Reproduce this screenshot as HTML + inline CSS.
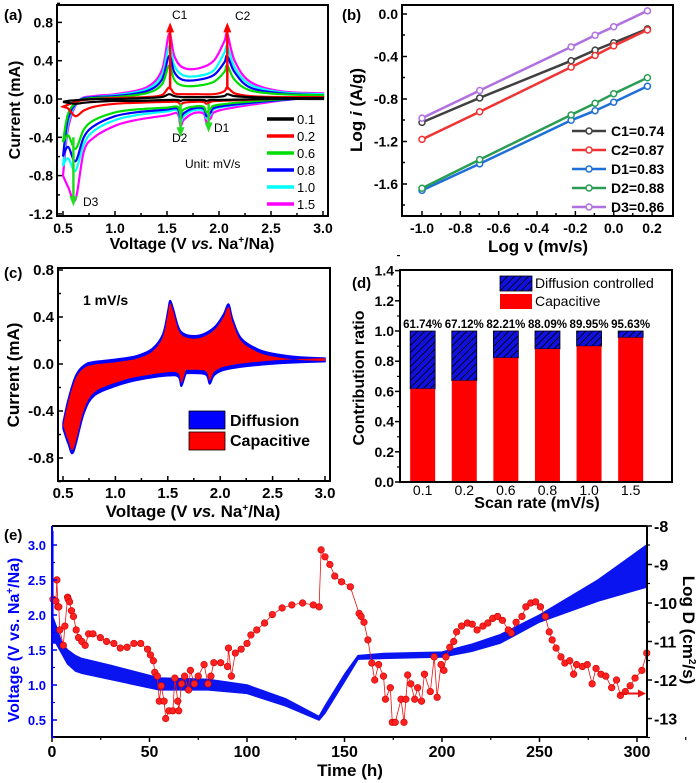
<!DOCTYPE html>
<html><head><meta charset="utf-8"><style>
body{margin:0;background:#fff;}
svg{display:block;font-family:"Liberation Sans",Arial,sans-serif;font-weight:bold;}
</style></head><body>
<svg id="fig" width="700" height="783" viewBox="0 0 700 783" xmlns="http://www.w3.org/2000/svg">
<defs>
<pattern id="hatch" patternUnits="userSpaceOnUse" width="7" height="7">
<rect width="7" height="7" fill="#1010e0"/>
<path d="M-1,8 L8,-1 M-4,4 L4,-4 M3,11 L11,3" stroke="#000" stroke-width="0.8"/>
</pattern>
</defs>
</svg>
<script>
// ---------- Panel (a) data ----------
const aUpperV=[0.5,0.55,0.65,0.8,1.0,1.3,1.45,1.52,1.57,1.65,1.8,1.95,2.05,2.08,2.15,2.3,2.6,3.0];
const aLowerV=[3.0,2.5,2.0,1.92,1.88,1.85,1.75,1.66,1.63,1.6,1.5,1.2,1.0,0.8,0.7,0.62,0.55,0.5];
const aRates=["0.1","0.2","0.6","0.8","1.0","1.5"];
const aUp01=[-0.03,-0.02,-0.01,0.0,0.0,0.01,0.02,0.05,0.03,0.02,0.02,0.02,0.03,0.05,0.03,0.02,0.01,0.01];
const aUp02=[-0.08,-0.06,-0.02,0.0,0.01,0.02,0.04,0.12,0.06,0.05,0.05,0.05,0.08,0.12,0.06,0.03,0.02,0.02];
const aUp06=[-0.45,-0.15,-0.02,0.01,0.02,0.06,0.15,0.35,0.2,0.14,0.14,0.18,0.28,0.35,0.2,0.09,0.05,0.04];
const aUp08=[-0.6,-0.2,-0.02,0.02,0.03,0.08,0.2,0.45,0.28,0.2,0.2,0.25,0.38,0.45,0.28,0.12,0.06,0.04];
const aUp10=[-0.7,-0.25,-0.02,0.02,0.04,0.1,0.25,0.55,0.35,0.25,0.24,0.3,0.48,0.55,0.33,0.15,0.07,0.05];
const aUp15=[-0.8,-0.3,-0.02,0.03,0.05,0.12,0.3,0.68,0.45,0.33,0.32,0.4,0.6,0.68,0.4,0.18,0.08,0.06];
const aLo01=[0.0,0.0,-0.01,-0.01,-0.02,-0.01,-0.01,-0.01,-0.02,-0.01,-0.01,-0.02,-0.02,-0.03,-0.04,-0.05,-0.04,-0.03];
const aLo02=[0.01,0.0,-0.02,-0.03,-0.05,-0.03,-0.03,-0.04,-0.06,-0.03,-0.03,-0.04,-0.05,-0.08,-0.12,-0.18,-0.1,-0.08];
const aLo06=[0.02,-0.01,-0.06,-0.1,-0.14,-0.08,-0.08,-0.11,-0.15,-0.08,-0.09,-0.11,-0.14,-0.22,-0.32,-0.52,-0.38,-0.45];
const aLo08=[0.02,-0.02,-0.08,-0.14,-0.18,-0.1,-0.1,-0.15,-0.2,-0.1,-0.11,-0.14,-0.18,-0.28,-0.4,-0.65,-0.5,-0.6];
const aLo10=[0.02,-0.02,-0.09,-0.16,-0.2,-0.12,-0.12,-0.18,-0.24,-0.12,-0.13,-0.17,-0.22,-0.33,-0.47,-0.75,-0.62,-0.7];
const aLo15=[0.03,-0.03,-0.12,-0.2,-0.24,-0.15,-0.15,-0.22,-0.28,-0.15,-0.17,-0.22,-0.28,-0.4,-0.55,-1.05,-0.92,-0.8];
const aXTicks=[0.5,1.0,1.5,2.0,2.5,3.0];
const aYTicks=[-1.2,-0.8,-0.4,0.0,0.4,0.8];
// ---------- Panel (b) data ----------
const bX=[-1.0,-0.699,-0.222,-0.097,0.0,0.176];
const bC1=[-1.02,-0.79,-0.44,-0.34,-0.27,-0.14];
const bC2=[-1.18,-0.92,-0.50,-0.39,-0.30,-0.15];
const bD1=[-1.66,-1.41,-1.00,-0.91,-0.83,-0.68];
const bD2=[-1.64,-1.37,-0.95,-0.84,-0.75,-0.60];
const bD3=[-0.98,-0.72,-0.31,-0.20,-0.12,0.03];
const bLabels=["C1=0.74","C2=0.87","D1=0.83","D2=0.88","D3=0.86"];
const bXTicks=[-1.0,-0.8,-0.6,-0.4,-0.2,0.0,0.2];
const bYTicks=[-1.6,-1.2,-0.8,-0.4,0.0];
// ---------- Panel (c) data ----------
const cUpV=[0.5,0.55,0.62,0.7,0.8,1.0,1.2,1.35,1.45,1.5,1.52,1.55,1.6,1.65,1.75,1.85,1.95,2.03,2.08,2.12,2.2,2.35,2.5,2.75,3.0];
const cUpI=[-0.5,-0.3,-0.1,-0.01,0.02,0.04,0.07,0.13,0.25,0.45,0.54,0.48,0.32,0.26,0.24,0.26,0.32,0.42,0.51,0.38,0.22,0.13,0.09,0.06,0.05];
const cLoV=[3.0,2.5,2.1,1.95,1.9,1.86,1.7,1.67,1.63,1.6,1.5,1.2,1.0,0.8,0.7,0.6,0.55,0.5];
const cLoI=[0.02,0.0,-0.04,-0.09,-0.17,-0.09,-0.08,-0.09,-0.19,-0.11,-0.1,-0.14,-0.19,-0.27,-0.42,-0.75,-0.68,-0.55];
const cXTicks=[0.5,1.0,1.5,2.0,2.5,3.0];
const cYTicks=[-0.8,-0.4,0.0,0.4,0.8];
// ---------- Panel (d) data ----------
const dCats=["0.1","0.2","0.6","0.8","1.0","1.5"];
const dCap=[0.6174,0.6712,0.8221,0.8809,0.8995,0.9563];
const dPct=["61.74%","67.12%","82.21%","88.09%","89.95%","95.63%"];
const dYTicks=[0.0,0.2,0.4,0.6,0.8,1.0,1.2,1.4];
// ---------- Panel (e) data ----------
const eVt=[0,2,5,8,12,15,30,55,80,100,120,137,140,150,157,170,200,215,230,250,280,305];
const eVhi=[2.0,1.85,1.6,1.5,1.42,1.38,1.28,1.1,1.08,1.0,0.8,0.55,0.7,1.15,1.42,1.45,1.47,1.58,1.72,2.0,2.5,3.0];
const eVlo=[1.6,1.6,1.45,1.3,1.2,1.17,1.08,0.93,0.93,0.88,0.7,0.5,0.6,1.05,1.37,1.38,1.4,1.48,1.6,1.9,2.2,2.4];
const eDt=[0.5,2,2.5,3,3.5,4,5.8,6.6,8,8.3,9,10,11,12.4,13.6,15.3,17,18.8,21,24.8,28,31.7,35,38.5,42,45.5,49,50.5,52,52.7,54,55,56,57.5,58.3,60,62,63,64.5,65,66.4,68,70,71,73,75,78,80,81.5,83,86.5,90,90.5,92,94,97,100,102,105,109,113,118,123,128.5,134,137,138,140,142.5,145,148.5,153,157.5,158.5,160,162,164,165.5,167.5,170,171,173.5,174.5,176,179,180.5,181.5,182.4,184,186,187.5,189.5,191,194,196,197.5,199.5,201,202,204,206,207.5,210,213,215.5,218,221,223.5,226,228.5,231,234,235.5,238,241,243,245.5,248,250.5,253,255,256.5,258.5,261,263,265.5,267.5,269,272,274.5,277,279,281.5,284,287,289.5,291.5,294,296.5,299,302.5,305];
const eDv=[-9.9,-9.95,-9.4,-10.1,-10.1,-10.7,-11.1,-10.6,-9.85,-9.9,-9.97,-10.2,-10.35,-10.7,-10.9,-11.0,-11.1,-10.8,-10.8,-10.9,-11.0,-11.05,-11.17,-11.15,-11.05,-11.05,-11.2,-11.35,-11.5,-11.8,-11.9,-12.55,-12.15,-12.55,-13.0,-12.8,-12.8,-11.95,-12.55,-12.8,-12.1,-11.9,-12.26,-11.75,-12.1,-11.9,-11.6,-12.1,-11.9,-11.55,-11.55,-11.65,-11.17,-11.9,-11.3,-11.2,-11.05,-10.83,-10.7,-10.52,-10.3,-10.13,-10.05,-10.0,-10.05,-10.1,-8.62,-8.8,-9.0,-9.3,-9.45,-9.58,-10.27,-10.35,-10.5,-10.96,-11.56,-12.0,-11.6,-11.9,-12.5,-12.2,-13.1,-13.1,-12.5,-13.1,-12.5,-11.87,-12.1,-12.5,-12.2,-12.55,-11.85,-12.3,-11.4,-12.45,-11.6,-11.75,-11.4,-11.15,-11.0,-10.75,-10.6,-10.52,-10.55,-10.7,-10.6,-10.52,-10.4,-10.35,-10.45,-10.7,-10.78,-10.5,-10.35,-10.1,-10.0,-9.97,-10.1,-10.35,-10.75,-10.96,-11.17,-11.4,-11.56,-11.5,-11.85,-11.6,-11.65,-11.6,-12.1,-11.7,-11.85,-11.9,-12.2,-12.0,-12.4,-12.3,-12.15,-11.95,-11.75,-11.3];
const eXTicks=[0,50,100,150,200,250,300];
const eVTicks=[0.5,1.0,1.5,2.0,2.5,3.0];
const eDTicks=[-13,-12,-11,-10,-9,-8];

const NS="http://www.w3.org/2000/svg";
const svg=document.getElementById('fig');
function mk(tag,attrs,parent){const e=document.createElementNS(NS,tag);for(const k in attrs)e.setAttribute(k,attrs[k]);(parent||svg).appendChild(e);return e;}
function txt(s,x,y,size,anchor,fill,parent){const t=mk('text',{x:x,y:y,'font-size':size,'text-anchor':anchor||'middle',fill:fill||'#000'},parent);t.textContent=s;return t;}
function fmt(v){return (Math.abs(v)<1e-9?0:v).toFixed(1);}
function grp(name){const g=mk('g',{});return g;}
function frame(g,x0,y0,x1,y1,color){const r=mk('rect',{x:x0,y:y0,width:x1-x0,height:y1-y0,fill:'none',stroke:color||'#000','stroke-width':2},g);}
function pathD(xs,ys,sx,sy){return xs.map((v,i)=>(i?'L':'M')+sx(v).toFixed(1)+','+sy(ys[i]).toFixed(1)).join(' ');}
function smoothD(xs,ys,sx,sy,cont){
 const P=xs.map((v,i)=>[sx(v),sy(ys[i])]);
 let d=(cont?'L':'M')+P[0][0].toFixed(1)+','+P[0][1].toFixed(1);
 for(let i=0;i<P.length-1;i++){
  const p0=P[Math.max(0,i-1)],p1=P[i],p2=P[i+1],p3=P[Math.min(P.length-1,i+2)];
  const c1=[p1[0]+(p2[0]-p0[0])/6,p1[1]+(p2[1]-p0[1])/6];
  const c2=[p2[0]-(p3[0]-p1[0])/6,p2[1]-(p3[1]-p1[1])/6];
  d+=` C${c1[0].toFixed(1)},${c1[1].toFixed(1)} ${c2[0].toFixed(1)},${c2[1].toFixed(1)} ${p2[0].toFixed(1)},${p2[1].toFixed(1)}`;
 }
 return d;
}

// ===== Panel (a) =====
(function(){
const g=grp('panel-a-cv-curves');
const sx=v=>63+(v-0.5)*104, sy=i=>99-i*95.75;
const X0=57,X1=328,Y0=5,Y1=216;
const ups=[aUp01,aUp02,aUp06,aUp08,aUp10,aUp15], los=[aLo01,aLo02,aLo06,aLo08,aLo10,aLo15];
const cols=['#000','#ff0000','#00dd00','#0000ff','#00ffff','#ff00ff'];
for(let k=5;k>=0;k--){
 const d=smoothD(aUpperV,ups[k],sx,sy,false)+' '+smoothD(aLowerV,los[k],sx,sy,true)+' Z';
 const p=mk('path',{d:d,fill:'none',stroke:cols[k],'stroke-width':2.2},g);
 
 
}
const arrows=[[1.53,0.1,0.8,'#ff0000','C1'],[2.08,0.1,0.8,'#ff0000','C2'],[1.63,-0.05,-0.4,'#22dd22','D2'],[1.9,-0.05,-0.35,'#22dd22','D1'],[0.6,-0.4,-1.12,'#22dd22','D3']];
arrows.forEach(a=>{
 const x=sx(a[0]),ya=sy(a[1]),yb=sy(a[2]);const dir=yb<ya?1:-1;
 const l=mk('line',{x1:x,y1:ya,x2:x,y2:yb+dir*8,stroke:a[3],'stroke-width':2.5},g);
 
 
 const h=mk('polygon',{points:`${x-4},${yb+dir*10} ${x+4},${yb+dir*10} ${x},${yb}`,fill:a[3]},g);
 
 
});
const pl=[['C1',172,19],['C2',235,20],['D2',172,142],['D1',214,132],['D3',83,206]];
pl.forEach(p=>{const t=txt(p[0],p[1],p[2],12,'start','#000',g);t.setAttribute('font-weight','normal');
 
 });
frame(g,X0,Y0,X1,Y1);
aXTicks.forEach((v,i)=>{const x=sx(v);mk('line',{x1:x,y1:Y1,x2:x,y2:Y1-5,stroke:'#000','stroke-width':1.5},g);
 if(i<aXTicks.length-1)mk('line',{x1:x+26,y1:Y1,x2:x+26,y2:Y1-3,stroke:'#000','stroke-width':1.5},g);
 const t=txt(fmt(v),x,233,14,'middle','#000',g);});
aYTicks.forEach(v=>{const y=sy(v);mk('line',{x1:X0,y1:y,x2:X0+5,y2:y,stroke:'#000','stroke-width':1.5},g);
 mk('line',{x1:X0,y1:y-19,x2:X0+3,y2:y-19,stroke:'#000','stroke-width':1.5},g);
 const t=txt(fmt(v),X0-4,y+5,14,'end','#000',g);});
const xt=txt('',192,249,16,'middle','#000',g);xt.innerHTML='Voltage (V <tspan font-style="italic">vs.</tspan> Na<tspan dy="-6" font-size="10">+</tspan><tspan dy="6">/Na)</tspan>';

const yt=txt('Current (mA)',0,0,16,'middle','#000',g);yt.setAttribute('transform','translate(20,110) rotate(-90)');

const pa=txt('(a)',4,20,15,'start','#000',g);
aRates.forEach((r,k)=>{const y=119+k*17;
 const l=mk('line',{x1:267,y1:y,x2:294,y2:y,stroke:cols[k],'stroke-width':3.5},g);
 
 const t=txt(r,297,y+5,13,'start','#000',g);t.setAttribute('font-weight','normal');
 });
const u=txt('Unit: mV/s',185,168,12,'start','#000',g);u.setAttribute('font-weight','normal');

})();

// ===== Panel (b) =====
(function(){
const g=grp('panel-b-log-plot');
const sx=v=>422+(v+1)*191.7, sy=v=>14-v*106.25;
const X0=402,X1=673,Y0=5,Y1=216;
const series=[bC1,bC2,bD1,bD2,bD3];const cols=['#404040','#f03333','#1f6fd8','#2a9d55','#b070e0'];
series.forEach((s,k)=>{
 const p=mk('path',{d:pathD(bX,s,sx,sy),fill:'none',stroke:cols[k],'stroke-width':2.5},g);
 
 bX.forEach((x,i)=>{const c=mk('circle',{cx:sx(x),cy:sy(s[i]),r:3,fill:'#fff',stroke:cols[k],'stroke-width':1.5},g);
  });
});
frame(g,X0,Y0,X1,Y1);
bXTicks.forEach((v,i)=>{const x=sx(v);mk('line',{x1:x,y1:Y1,x2:x,y2:Y1-5,stroke:'#000','stroke-width':1.5},g);
 if(i<bXTicks.length-1)mk('line',{x1:x+19,y1:Y1,x2:x+19,y2:Y1-3,stroke:'#000','stroke-width':1.5},g);
 const t=txt(fmt(v),x,233,14,'middle','#000',g);});
bYTicks.forEach(v=>{const y=sy(v);mk('line',{x1:X0,y1:y,x2:X0+5,y2:y,stroke:'#000','stroke-width':1.5},g);
 mk('line',{x1:X0,y1:y+21,x2:X0+3,y2:y+21,stroke:'#000','stroke-width':1.5},g);
 const t=txt(fmt(v),X0-4,y+5,14,'end','#000',g);});
const xt=txt('Log ν (mv/s)',538,252,17,'middle','#000',g);
const yt=txt('',0,0,17,'middle','#000',g);yt.innerHTML='Log <tspan font-style="italic">i</tspan> (A/g)';yt.setAttribute('transform','translate(362,110) rotate(-90)');

const pb=txt('(b)',342,20,15,'start','#000',g);
bLabels.forEach((lab,k)=>{const y=131+k*19;
 const l=mk('line',{x1:572,y1:y,x2:606,y2:y,stroke:cols[k],'stroke-width':2.5},g);
 
 const c=mk('circle',{cx:589,cy:y,r:3,fill:'#fff',stroke:cols[k],'stroke-width':1.5},g);
 
 const t=txt(lab,611,y+5,14,'start','#000',g);});
})();

// ===== Panel (c) =====
(function(){
const g=grp('panel-c-capacitive-cv');
const sx=v=>63+(v-0.5)*104.8, sy=i=>364-i*117.5;
const X0=58,X1=330,Y0=268,Y1=481;
const outer=smoothD(cUpV,cUpI,sx,sy,false)+' '+smoothD(cLoV,cLoI,sx,sy,true)+' Z';
const p1=mk('path',{d:outer,fill:'#0000ff',stroke:'#0000ff','stroke-width':1.5},g);

const inner=cUpI.map(v=>v-0.025), innerLo=cLoI.map(v=>v+0.03);
const p2=mk('path',{d:smoothD(cUpV,inner,sx,sy,false)+' '+smoothD(cLoV,innerLo,sx,sy,true)+' Z',fill:'#ff0000',stroke:'none'},g);

frame(g,X0,Y0,X1,Y1);
cXTicks.forEach((v,i)=>{const x=sx(v);mk('line',{x1:x,y1:Y1,x2:x,y2:Y1-5,stroke:'#000','stroke-width':1.5},g);
 if(i<cXTicks.length-1)mk('line',{x1:x+26,y1:Y1,x2:x+26,y2:Y1-3,stroke:'#000','stroke-width':1.5},g);
 const t=txt(fmt(v),x,498,15,'middle','#000',g);});
cYTicks.forEach(v=>{const y=sy(v);mk('line',{x1:X0,y1:y,x2:X0+5,y2:y,stroke:'#000','stroke-width':1.5},g);
 mk('line',{x1:X0,y1:y+23.5,x2:X0+3,y2:y+23.5,stroke:'#000','stroke-width':1.5},g);
 const t=txt(fmt(v),X0-4,y+5,15,'end','#000',g);});
const xt=txt('',193,517,17,'middle','#000',g);xt.innerHTML='Voltage (V <tspan font-style="italic">vs.</tspan> Na<tspan dy="-6" font-size="10">+</tspan><tspan dy="6">/Na)</tspan>';

const yt=txt('Current (mA)',0,0,17,'middle','#000',g);yt.setAttribute('transform','translate(19,375) rotate(-90)');

const pc=txt('(c)',4,278,15,'start','#000',g);
const r=txt('1 mV/s',83,305,14,'start','#000',g);
const l1=mk('rect',{x:189,y:411,width:36,height:18,fill:'#0000ff',stroke:'#000','stroke-width':0.8},g);

const l2=mk('rect',{x:189,y:432,width:36,height:18,fill:'#ff0000',stroke:'#000','stroke-width':0.8},g);

const t1=txt('Diffusion',230,426,16,'start','#000',g);
const t2=txt('Capacitive',230,446,16,'start','#000',g);
})();

// ===== Panel (d) =====
(function(){
const g=grp('panel-d-contribution-bars');
const X0=400,X1=672,Y0=270,Y1=482;
const sy=v=>482-v*151;
const band=(X1-X0)/dCats.length;
const sx=i=>X0+12+band*0.5+i*41.6;
dCats.forEach((c,i)=>{
 const cx=sx(i)-12, w=25;
 const b1=mk('rect',{x:cx-w/2,y:sy(1),width:w,height:sy(dCap[i])-sy(1),fill:'url(#hatch)',stroke:'#000','stroke-width':0.8},g);
 
 const b2=mk('rect',{x:cx-w/2,y:sy(dCap[i]),width:w,height:sy(0)-sy(dCap[i]),fill:'#ff0000'},g);
 
 const t=txt(c,cx,495,14,'middle','#000',g);t.setAttribute('font-weight','normal');
 const pt=txt(dPct[i],cx,328,11.5,'middle','#000',g);
});
frame(g,X0,Y0,X1,Y1);
dYTicks.forEach(v=>{const y=sy(v);mk('line',{x1:X0,y1:y,x2:X0-5,y2:y,stroke:'#000','stroke-width':1.5},g);
 mk('line',{x1:X0,y1:y-15,x2:X0-3,y2:y-15,stroke:'#000','stroke-width':1.2},g);
 const t=txt(fmt(v),X0-6,y+5,14,'end','#000',g);});
const xt=txt('Scan rate (mV/s)',537,508,16,'middle','#000',g);
const yt=txt('Contribution ratio',0,0,16,'middle','#000',g);yt.setAttribute('transform','translate(364,378) rotate(-90)');

const pd=txt('(d)',352,288,15,'start','#000',g);
const l1=mk('rect',{x:500,y:276,width:32,height:15,fill:'url(#hatch)',stroke:'#000','stroke-width':0.8},g);

const l2=mk('rect',{x:500,y:294,width:32,height:15,fill:'#ff0000'},g);

const t1=txt('Diffusion controlled',535,288,14,'start','#000',g);t1.setAttribute('font-weight','normal');
const t2=txt('Capacitive',535,306,14,'start','#000',g);t2.setAttribute('font-weight','normal');
})();

// ===== Panel (e) =====
(function(){
const g=grp('panel-e-gitt');
const X0=52,X1=647,Y0=526,Y1=737;
const sx=t=>52+t*1.95, sv=v=>720-(v-0.5)*70, sd=d=>526+(-8-d)*38.5;
const band=pathD(eVt,eVhi,sx,sv)+' '+pathD(eVt.slice().reverse(),eVlo.slice().reverse(),sx,sv).replace('M','L')+' Z';
const vb=mk('path',{d:band,fill:'#0a14f0',stroke:'#0a14f0','stroke-width':1.5,'stroke-linejoin':'round'},g);

const spike=mk('line',{x1:sx(0.3),y1:sv(3.2),x2:sx(0.3),y2:sv(1.6),stroke:'#0a14f0','stroke-width':2},g);

const dl=mk('path',{d:pathD(eDt,eDv,sx,sd),fill:'none',stroke:'#ee1111','stroke-width':0.8},g);

eDt.forEach((t,i)=>{const c=mk('circle',{cx:sx(t),cy:sd(eDv[i]),r:3.3,fill:'#ff2020',stroke:'#cc0000','stroke-width':0.6},g);
 });
const top=mk('line',{x1:X0,y1:Y0,x2:X1,y2:Y0,stroke:'#000','stroke-width':2},g);
const bot=mk('line',{x1:X0,y1:Y1,x2:X1,y2:Y1,stroke:'#000','stroke-width':2},g);
const lft=mk('line',{x1:X0,y1:Y0,x2:X0,y2:Y1,stroke:'#0000ff','stroke-width':2},g);
const rgt=mk('line',{x1:X1,y1:Y0,x2:X1,y2:Y1,stroke:'#000','stroke-width':2},g);
eXTicks.forEach((v,i)=>{const x=sx(v);mk('line',{x1:x,y1:Y1,x2:x,y2:Y1+5,stroke:'#000','stroke-width':1.5},g);
 mk('line',{x1:x+48.75,y1:Y1,x2:x+48.75,y2:Y1+3,stroke:'#000','stroke-width':1.2},g);
 const t=txt(String(v),x,757,16,'middle','#000',g);});
eVTicks.forEach(v=>{const y=sv(v);mk('line',{x1:X0,y1:y,x2:X0+5,y2:y,stroke:'#0000ff','stroke-width':1.5},g);
 mk('line',{x1:X0,y1:y+17.5,x2:X0+3,y2:y+17.5,stroke:'#0000ff','stroke-width':1.2},g);
 const t=txt(fmt(v),X0-6,y+5,13,'end','#0000ff',g);});
eDTicks.forEach(v=>{const y=sd(v);mk('line',{x1:X1,y1:y,x2:X1+5,y2:y,stroke:'#000','stroke-width':1.5},g);
 mk('line',{x1:X1,y1:y+19,x2:X1+3,y2:y+19,stroke:'#000','stroke-width':1.2},g);
 const t=txt(String(v),X1+7,y+6,16,'start','#000',g);});
const ar=mk('line',{x1:618,y1:sd(-12.35),x2:640,y2:sd(-12.35),stroke:'#ee1111','stroke-width':2},g);

const ah=mk('polygon',{points:`638,${sd(-12.35)-4} 646,${sd(-12.35)} 638,${sd(-12.35)+4}`,fill:'#ee1111'},g);

const xt=txt('Time (h)',350,776,17,'middle','#000',g);
const yt=txt('',0,0,16,'middle','#0000ff',g);yt.innerHTML='Voltage (V vs. Na<tspan dy="-6" font-size="10">+</tspan><tspan dy="6">/Na)</tspan>';
yt.setAttribute('transform','translate(19,640) rotate(-90)');
const rt=txt('',0,0,17,'middle','#000',g);rt.innerHTML='Log D (cm<tspan dy="-6" font-size="10">2</tspan><tspan dy="6">/s)</tspan>';
rt.setAttribute('transform','translate(683,630) rotate(90)');
const pe=txt('(e)',4,540,15,'start','#000',g);
})();
</script>
</body></html>
